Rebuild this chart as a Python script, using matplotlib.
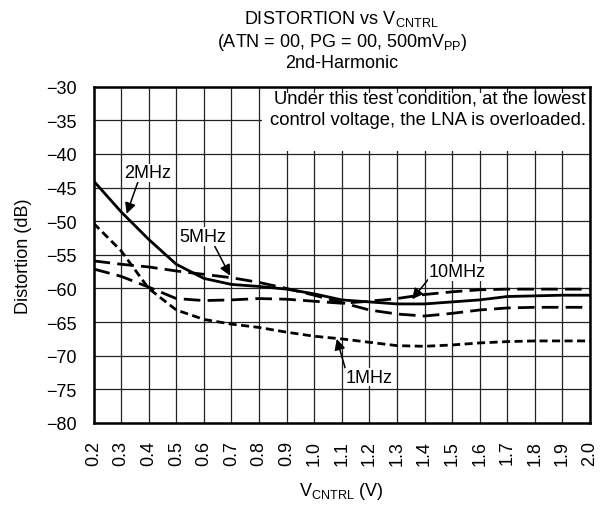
import matplotlib
matplotlib.use("Agg")
import matplotlib.pyplot as plt

plt.rcParams["font.family"] = ["Liberation Sans", "DejaVu Sans"]
plt.rcParams["mathtext.default"] = "regular"

# Control voltage (V)
v_cntrl = [0.2, 0.3, 0.4, 0.5, 0.6, 0.7, 0.8, 0.9, 1.0, 1.1,
           1.2, 1.3, 1.4, 1.5, 1.6, 1.7, 1.8, 1.9, 2.0]

# 2nd-harmonic distortion (dB) per input frequency
dist_1mhz = [-50.3, -54.4, -60.0, -63.2, -64.6, -65.3, -65.8, -66.5, -67.1, -67.5,
             -68.0, -68.5, -68.6, -68.4, -68.1, -67.9, -67.8, -67.8, -67.8]
dist_2mhz = [-44.0, -48.6, -52.7, -56.4, -58.5, -59.4, -59.7, -60.1, -60.8, -61.7,
             -62.0, -62.3, -62.3, -62.0, -61.7, -61.2, -61.1, -61.0, -61.0]
dist_5mhz = [-55.9, -56.4, -56.8, -57.4, -57.9, -58.4, -59.1, -60.0, -61.0, -62.1,
             -63.2, -63.8, -64.1, -63.7, -63.2, -62.9, -62.8, -62.8, -62.8]
dist_10mhz = [-57.1, -58.2, -59.8, -61.5, -61.8, -61.7, -61.5, -61.6, -61.9, -62.2,
              -61.9, -61.5, -60.9, -60.5, -60.2, -60.1, -60.1, -60.1, -60.1]

x_ticks = [0.2, 0.3, 0.4, 0.5, 0.6, 0.7, 0.8, 0.9, 1.0, 1.1,
           1.2, 1.3, 1.4, 1.5, 1.6, 1.7, 1.8, 1.9, 2.0]
y_ticks = [-30, -35, -40, -45, -50, -55, -60, -65, -70, -75, -80]

FS = 13

fig = plt.figure(figsize=(6.16, 5.06), dpi=100)
ax = fig.add_axes([0.1518, 0.1621, 0.9578 - 0.1518, 0.8267 - 0.1621])

ax.set_xlim(0.2, 2.0)
ax.set_ylim(-80, -30)
ax.set_xticks(x_ticks)
ax.set_xticklabels([f"{t:.1f}" for t in x_ticks], rotation=90)
ax.set_yticks(y_ticks)
ax.set_yticklabels([f"\u2212{abs(t)}" for t in y_ticks])
ax.tick_params(length=0, labelsize=FS)
ax.tick_params(axis="y", pad=12)
ax.tick_params(axis="x", pad=12)
ax.grid(True, color="#222222", linewidth=0.9)
ax.set_axisbelow(True)
for s in ax.spines.values():
    s.set_linewidth(1.8)
    s.set_color("black")

lw = 2.0
ax.plot(v_cntrl, dist_2mhz, color="black", lw=lw, solid_capstyle="butt", zorder=3)
ax.plot(v_cntrl, dist_1mhz, color="black", lw=lw, dashes=[2.9, 1.6], zorder=3)
ax.plot(v_cntrl, dist_5mhz, color="black", lw=lw, dashes=[6.0, 2.6], zorder=3)
ax.plot(v_cntrl, dist_10mhz, color="black", lw=lw, dashes=[6.0, 2.6], zorder=3)

# Note box covering the grid
ax.fill_between([0.81, 1.995], -39.6, -30.9, color="white", zorder=2.5, lw=0)
ax.text(1.985, -33.3, "Under this test condition, at the lowest\ncontrol voltage, the LNA is overloaded.",
        ha="right", va="center", fontsize=13.3, linespacing=1.3, zorder=4)

arrow = dict(arrowstyle="-|>", color="black", lw=1.1, mutation_scale=16, shrinkA=0, shrinkB=0)
label_box = dict(fc="white", ec="none", pad=0.5)
ax.annotate("2MHz", xy=(0.32, -48.9), xytext=(0.396, -42.8), ha="center", va="center",
            fontsize=FS, arrowprops=dict(arrow, relpos=(0.3, 0.0)), zorder=4, bbox=label_box)
ax.annotate("5MHz", xy=(0.695, -58.1), xytext=(0.595, -52.3), ha="center", va="center",
            fontsize=FS, arrowprops=dict(arrow, relpos=(0.75, 0.0)), zorder=4, bbox=label_box)
ax.annotate("10MHz", xy=(1.355, -61.6), xytext=(1.52, -57.5), ha="center", va="center",
            fontsize=FS, arrowprops=dict(arrow, relpos=(0.0, 0.1)), zorder=4, bbox=label_box)
ax.annotate("1MHz", xy=(1.082, -67.5), xytext=(1.20, -73.2), ha="center", va="center",
            fontsize=FS, arrowprops=dict(arrow, relpos=(0.0, 0.9)), zorder=4, bbox=label_box)

ax.set_xlabel("V$_{CNTRL}$ (V)", fontsize=FS, labelpad=11)
ax.set_ylabel("Distortion (dB)", fontsize=FS, labelpad=10)

ax.set_title("DISTORTION vs V$_{CNTRL}$\n(ATN = 00, PG = 00, 500mV$_{PP}$)\n2nd-Harmonic",
             fontsize=FS, linespacing=1.2, pad=14)

fig.savefig("out.png", dpi=100)
